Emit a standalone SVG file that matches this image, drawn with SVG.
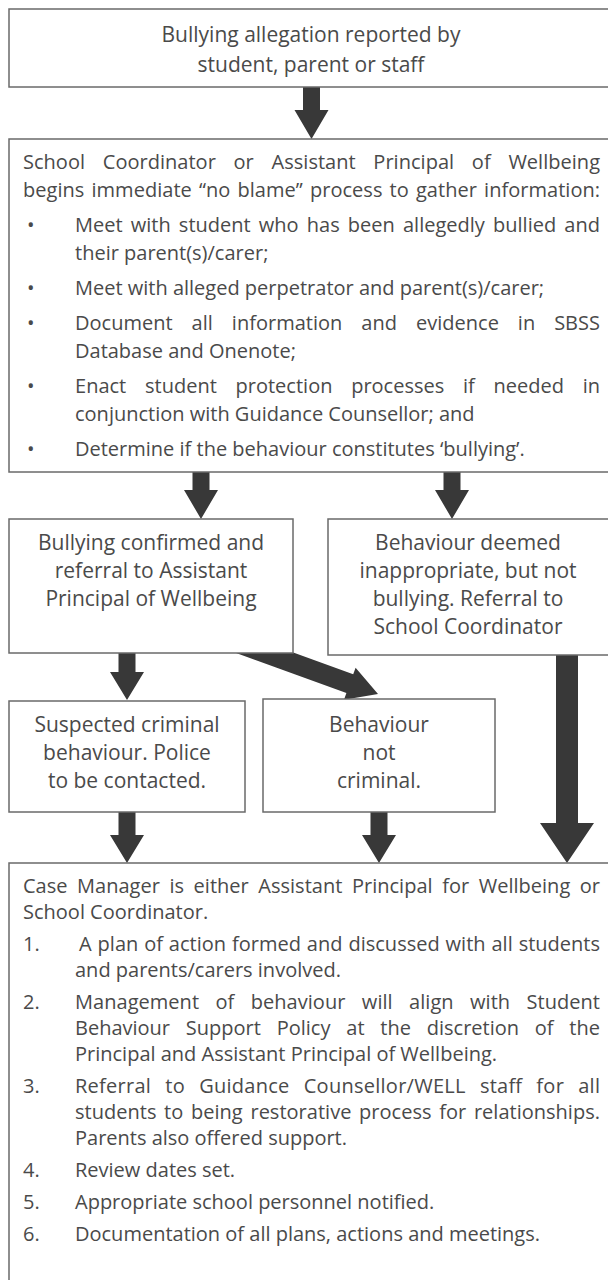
<svg xmlns="http://www.w3.org/2000/svg" width="608" height="1280" viewBox="0 0 608 1280">
<style>
.box{fill:#fff;stroke:#6a6a6a;stroke-width:1.5}
.arr{fill:#383838}
text{font-family:"Open Sans","Noto Sans","Liberation Sans",sans-serif;fill:#4a4a4a}
.t{font-size:20px}
.b{font-size:21px;text-anchor:middle}
</style>
<rect width="608" height="1280" fill="#fff"/>
<g id="connectors">
<polygon class="arr" points="303,87 320,87 320,110 328.5,110 311.5,139 294.5,110 303,110"/>
<polygon class="arr" points="192.5,472 209.5,472 209.5,490 218,490 201,519 184,490 192.5,490"/>
<polygon class="arr" points="443.5,472 460.5,472 460.5,490 469,490 452,519 435,490 443.5,490"/>
<polygon class="arr" points="118.5,653 135.5,653 135.5,672 144,672 127,700 110,672 118.5,672"/>
<polygon class="arr" points="221.6,626.5 353.2,674.3 355.6,667.7 378,694 344,699.7 346.4,693.1 214.8,645.3"/>
<polygon class="arr" points="118.5,812 135.5,812 135.5,835 144,835 127,863 110,835 118.5,835"/>
<polygon class="arr" points="370.5,812 387.5,812 387.5,835 396,835 379,863 362,835 370.5,835"/>
<polygon class="arr" points="556,655 578,655 578,823 594,823 567,863 540,823 556,823"/>
</g>
<g id="n1">
<rect class="box" x="9" y="9" width="612" height="78"/>
<text class="b" x="311" y="42">Bullying allegation reported by</text>
<text class="b" x="311" y="72">student, parent or staff</text>
</g>
<g id="n2">
<rect class="box" x="9" y="139" width="612" height="333"/>
<text class="t" x="23" y="169" word-spacing="12.5" textLength="577" lengthAdjust="spacing">School Coordinator or Assistant Principal of Wellbeing</text>
<text class="t" x="23" y="197" word-spacing="1.9" textLength="577" lengthAdjust="spacing">begins immediate “no blame” process to gather information:</text>
<text class="t" x="27" y="232">•</text>
<text class="t" x="75" y="232" word-spacing="2.9" textLength="525" lengthAdjust="spacing">Meet with student who has been allegedly bullied and</text>
<text class="t" x="75" y="260">their parent(s)/carer;</text>
<text class="t" x="27" y="295">•</text>
<text class="t" x="75" y="295">Meet with alleged perpetrator and parent(s)/carer;</text>
<text class="t" x="27" y="330">•</text>
<text class="t" x="75" y="330" word-spacing="13.7" textLength="525" lengthAdjust="spacing">Document all information and evidence in SBSS</text>
<text class="t" x="75" y="358">Database and Onenote;</text>
<text class="t" x="27" y="393">•</text>
<text class="t" x="75" y="393" word-spacing="13.5" textLength="525" lengthAdjust="spacing">Enact student protection processes if needed in</text>
<text class="t" x="75" y="421">conjunction with Guidance Counsellor; and</text>
<text class="t" x="27" y="456">•</text>
<text class="t" x="75" y="456">Determine if the behaviour constitutes ‘bullying’.</text>
</g>
<g id="n3">
<rect class="box" x="9" y="519" width="284" height="134"/>
<text class="b" x="151" y="550">Bullying confirmed and</text>
<text class="b" x="151" y="578">referral to Assistant</text>
<text class="b" x="151" y="606">Principal of Wellbeing</text>
</g>
<g id="n4">
<rect class="box" x="328" y="519" width="293" height="136"/>
<text class="b" x="468" y="550">Behaviour deemed</text>
<text class="b" x="468" y="578">inappropriate, but not</text>
<text class="b" x="468" y="606">bullying. Referral to</text>
<text class="b" x="468" y="634">School Coordinator</text>
</g>
<g id="n5">
<rect class="box" x="9" y="701" width="236" height="111"/>
<text class="b" x="127" y="732">Suspected criminal</text>
<text class="b" x="127" y="760">behaviour. Police</text>
<text class="b" x="127" y="788">to be contacted.</text>
</g>
<g id="n6">
<rect class="box" x="263" y="699" width="232" height="113"/>
<text class="b" x="379" y="732">Behaviour</text>
<text class="b" x="379" y="760">not</text>
<text class="b" x="379" y="788">criminal.</text>
</g>
<g id="n7">
<rect class="box" x="9" y="863" width="612" height="430"/>
<text class="t" x="23" y="893" word-spacing="4.3" textLength="577" lengthAdjust="spacing">Case Manager is either Assistant Principal for Wellbeing or</text>
<text class="t" x="23" y="919">School Coordinator.</text>
<text class="t" x="23" y="951">1.</text>
<text class="t" x="79" y="951" word-spacing="0.7" textLength="521" lengthAdjust="spacing">A plan of action formed and discussed with all students</text>
<text class="t" x="75" y="977">and parents/carers involved.</text>
<text class="t" x="23" y="1009">2.</text>
<text class="t" x="75" y="1009" word-spacing="11.2" textLength="525" lengthAdjust="spacing">Management of behaviour will align with Student</text>
<text class="t" x="75" y="1035" word-spacing="10.6" textLength="525" lengthAdjust="spacing">Behaviour Support Policy at the discretion of the</text>
<text class="t" x="75" y="1061">Principal and Assistant Principal of Wellbeing.</text>
<text class="t" x="23" y="1093">3.</text>
<text class="t" x="75" y="1093" word-spacing="8.7" textLength="525" lengthAdjust="spacing">Referral to Guidance Counsellor/WELL staff for all</text>
<text class="t" x="75" y="1119" word-spacing="2.5" textLength="525" lengthAdjust="spacing">students to being restorative process for relationships.</text>
<text class="t" x="75" y="1145">Parents also offered support.</text>
<text class="t" x="23" y="1177">4.</text>
<text class="t" x="75" y="1177">Review dates set.</text>
<text class="t" x="23" y="1209">5.</text>
<text class="t" x="75" y="1209">Appropriate school personnel notified.</text>
<text class="t" x="23" y="1241">6.</text>
<text class="t" x="75" y="1241">Documentation of all plans, actions and meetings.</text>
</g>
</svg>
